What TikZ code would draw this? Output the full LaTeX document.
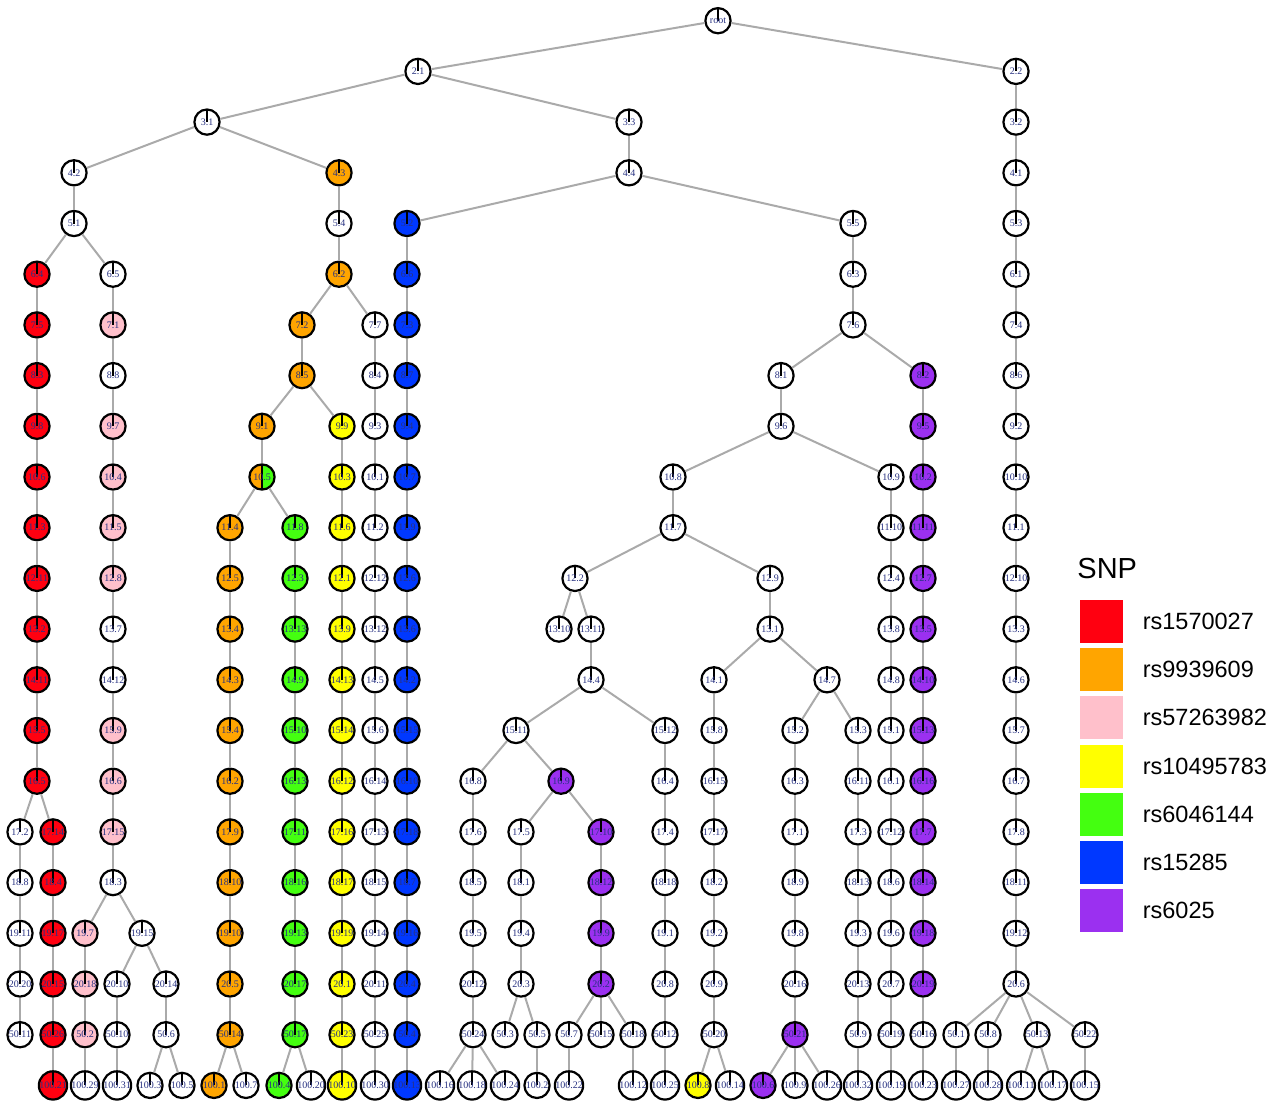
\documentclass[tikz,border=0pt]{standalone}
\usepackage{fontspec}
\setmainfont{Liberation Serif}
\newfontfamily\legendfont{Liberation Sans}
\usepackage{tikz}
\usetikzlibrary{positioning}

\definecolor{snpred}{HTML}{FF0010}
\definecolor{snporange}{HTML}{FFA500}
\definecolor{snppink}{HTML}{FFC0CB}
\definecolor{snpyellow}{HTML}{FFFF00}
\definecolor{snpgreen}{HTML}{44FF10}
\definecolor{snpblue}{HTML}{0038FF}
\definecolor{snppurple}{HTML}{9B30F0}
\definecolor{labelblue}{RGB}{40,50,130}
\definecolor{linkgray}{HTML}{AAAAAA}

\begin{document}
\begin{tikzpicture}[x=0.5pt,y=-0.5pt,
	snp/.style={circle,draw=black,line width=1.1pt,minimum size=12.6pt,inner sep=0pt,
		fill=white,text=labelblue,font=\fontsize{5}{5}\selectfont,
		path picture={\draw[black,line width=1pt] (path picture bounding box.north) -- (path picture bounding box.center);}},
	halfsnp/.style={path picture={
		\fill[snporange] (path picture bounding box.south west) rectangle (path picture bounding box.north);
		\fill[snpgreen] (path picture bounding box.south) rectangle (path picture bounding box.north east);
		\draw[black,line width=1pt] (path picture bounding box.north) -- (path picture bounding box.south);}},
	link/.style={draw=linkgray,line width=1pt},
	legbox/.style={rectangle,minimum size=22pt,inner sep=0pt,draw=white,line width=0.4pt},
	legtext/.style={inner sep=0pt,anchor=west,font=\legendfont\fontsize{11.75}{12}\selectfont}]
	\useasboundingbox (0,0) rectangle (1280,1110);

	% tree nodes, one row per level
	\node[snp] (nroot) at (718,20.7) {root};
	\foreach \i/\x/\c in {1/418/white,2/1016/white}
		\node[snp,fill=\c] (n2-\i) at (\x,71.4) {2.\i};
	\foreach \i/\x/\c in {1/207/white,3/629/white,2/1016/white}
		\node[snp,fill=\c] (n3-\i) at (\x,122.1) {3.\i};
	\foreach \i/\x/\c in {2/74/white,3/339/snporange,4/629/white,1/1016/white}
		\node[snp,fill=\c] (n4-\i) at (\x,172.8) {4.\i};
	\foreach \i/\x/\c in {1/74/white,4/339/white,2/407/snpblue,5/853/white,3/1016/white}
		\node[snp,fill=\c] (n5-\i) at (\x,223.5) {5.\i};
	\foreach \i/\x/\c in {4/37/snpred,5/113/white,2/339/snporange,6/407/snpblue,3/853/white,1/1016/white}
		\node[snp,fill=\c] (n6-\i) at (\x,274.2) {6.\i};
	\foreach \i/\x/\c in {5/37/snpred,1/113/snppink,2/302/snporange,7/375/white,3/407/snpblue,6/853/white,4/1016/white}
		\node[snp,fill=\c] (n7-\i) at (\x,324.9) {7.\i};
	\foreach \i/\x/\c in {3/37/snpred,8/113/white,5/302/snporange,4/375/white,7/407/snpblue,1/781/white,2/923/snppurple,6/1016/white}
		\node[snp,fill=\c] (n8-\i) at (\x,375.6) {8.\i};
	\foreach \i/\x/\c in {8/37/snpred,7/113/snppink,1/262/snporange,9/342/snpyellow,3/375/white,4/407/snpblue,6/781/white,5/923/snppurple,2/1016/white}
		\node[snp,fill=\c] (n9-\i) at (\x,426.3) {9.\i};
	\foreach \i/\x/\c in {6/37/snpred,4/113/snppink,3/342/snpyellow,1/375/white,7/407/snpblue,8/673/white,9/891/white,2/923/snppurple,10/1016/white}
		\node[snp,fill=\c] (n10-\i) at (\x,477) {10.\i};
	\node[snp,halfsnp] (n10-5) at (262,477) {10.5};
	\foreach \i/\x/\c in {3/37/snpred,5/113/snppink,4/230/snporange,8/295/snpgreen,6/342/snpyellow,2/375/white,9/407/snpblue,7/673/white,10/891/white,11/923/snppurple,1/1016/white}
		\node[snp,fill=\c] (n11-\i) at (\x,527.7) {11.\i};
	\foreach \i/\x/\c in {11/37/snpred,8/113/snppink,5/230/snporange,3/295/snpgreen,1/342/snpyellow,12/375/white,6/407/snpblue,2/575/white,9/770/white,4/891/white,7/923/snppurple,10/1016/white}
		\node[snp,fill=\c] (n12-\i) at (\x,578.4) {12.\i};
	\foreach \i/\x/\c in {2/37/snpred,7/113/white,4/230/snporange,13/295/snpgreen,9/342/snpyellow,12/375/white,6/407/snpblue,10/559/white,11/591/white,1/770/white,8/891/white,5/923/snppurple,3/1016/white}
		\node[snp,fill=\c] (n13-\i) at (\x,629.1) {13.\i};
	\foreach \i/\x/\c in {11/37/snpred,12/113/white,3/230/snporange,9/295/snpgreen,13/342/snpyellow,5/375/white,2/407/snpblue,4/591/white,1/714/white,7/827/white,8/891/white,10/923/snppurple,6/1016/white}
		\node[snp,fill=\c] (n14-\i) at (\x,679.8) {14.\i};
	\foreach \i/\x/\c in {5/37/snpred,9/113/snppink,4/230/snporange,10/295/snpgreen,14/342/snpyellow,6/375/white,15/407/snpblue,11/516/white,12/665/white,8/714/white,2/795/white,3/858/white,1/891/white,13/923/snppurple,7/1016/white}
		\node[snp,fill=\c] (n15-\i) at (\x,730.5) {15.\i};
	\foreach \i/\x/\c in {5/37/snpred,6/113/snppink,2/230/snporange,13/295/snpgreen,12/342/snpyellow,14/375/white,10/407/snpblue,8/473/white,9/561/snppurple,4/665/white,15/714/white,3/795/white,11/858/white,1/891/white,16/923/snppurple,7/1016/white}
		\node[snp,fill=\c] (n16-\i) at (\x,781.2) {16.\i};
	\foreach \i/\x/\c in {2/20/white,14/53/snpred,15/113/snppink,9/230/snporange,11/295/snpgreen,16/342/snpyellow,13/375/white,18/407/snpblue,6/473/white,5/521/white,10/601/snppurple,4/665/white,17/714/white,1/795/white,3/858/white,12/891/white,7/923/snppurple,8/1016/white}
		\node[snp,fill=\c] (n17-\i) at (\x,831.9) {17.\i};
	\foreach \i/\x/\c in {8/20/white,4/53/snpred,3/113/white,10/230/snporange,16/295/snpgreen,17/342/snpyellow,15/375/white,7/407/snpblue,5/473/white,1/521/white,12/601/snppurple,18/665/white,2/714/white,9/795/white,13/858/white,6/891/white,14/923/snppurple,11/1016/white}
		\node[snp,fill=\c] (n18-\i) at (\x,882.6) {18.\i};
	\foreach \i/\x/\c in {11/20/white,17/53/snpred,7/85/snppink,15/142/white,10/230/snporange,13/295/snpgreen,19/342/snpyellow,14/375/white,16/407/snpblue,5/473/white,4/521/white,9/601/snppurple,1/665/white,2/714/white,8/795/white,3/858/white,6/891/white,18/923/snppurple,12/1016/white}
		\node[snp,fill=\c] (n19-\i) at (\x,933.3) {19.\i};
	\foreach \i/\x/\c in {20/20/white,15/53/snpred,18/85/snppink,10/117/white,14/166/white,5/230/snporange,17/295/snpgreen,1/342/snpyellow,11/375/white,4/407/snpblue,12/473/white,3/521/white,2/601/snppurple,8/665/white,9/714/white,16/795/white,13/858/white,7/891/white,19/923/snppurple,6/1016/white}
		\node[snp,fill=\c] (n20-\i) at (\x,984) {20.\i};
	\foreach \i/\x/\c in {11/20/white,26/53/snpred,2/85/snppink,10/117/white,6/166/white,14/230/snporange,17/295/snpgreen,23/342/snpyellow,25/375/white,4/407/snpblue,24/473/white,3/505/white,5/537/white,7/569/white,15/601/white,18/633/white,12/665/white,20/714/white,21/795/snppurple,9/858/white,19/891/white,16/923/white,1/956/white,8/988/white,13/1037/white,22/1085/white}
		\node[snp,fill=\c] (n50-\i) at (\x,1034.7) {50.\i};
	\foreach \i/\x/\c in {21/53/snpred,29/85/white,31/117/white,3/150/white,5/182/white,1/214/snporange,7/246/white,4/279/snpgreen,20/311/white,10/342/snpyellow,30/375/white,13/407/snpblue,16/440/white,18/472/white,24/505/white,2/537/white,22/569/white,12/633/white,25/665/white,8/698/snpyellow,14/730/white,6/763/snppurple,9/795/white,26/827/white,32/858/white,19/891/white,23/923/white,27/956/white,28/988/white,11/1021/white,17/1053/white,15/1085/white}
		\node[snp,fill=\c] (n100-\i) at (\x,1085.4) {100.\i};

	% parent -- child links
	\foreach \a/\b in {root/2-1,root/2-2,2-1/3-1,2-1/3-3,2-2/3-2,
		3-1/4-2,3-1/4-3,3-3/4-4,3-2/4-1,
		4-2/5-1,4-3/5-4,4-4/5-2,4-4/5-5,4-1/5-3,
		5-1/6-4,5-1/6-5,5-4/6-2,5-2/6-6,5-5/6-3,5-3/6-1,
		6-4/7-5,6-5/7-1,6-2/7-2,6-2/7-7,6-6/7-3,6-3/7-6,6-1/7-4,
		7-5/8-3,7-1/8-8,7-2/8-5,7-7/8-4,7-3/8-7,7-6/8-1,7-6/8-2,7-4/8-6,
		8-3/9-8,8-8/9-7,8-5/9-1,8-5/9-9,8-4/9-3,8-7/9-4,8-1/9-6,8-2/9-5,8-6/9-2,
		9-8/10-6,9-7/10-4,9-1/10-5,9-9/10-3,9-3/10-1,9-4/10-7,9-6/10-8,9-6/10-9,9-5/10-2,9-2/10-10,
		10-6/11-3,10-4/11-5,10-5/11-4,10-5/11-8,10-3/11-6,10-1/11-2,10-7/11-9,10-8/11-7,10-9/11-10,10-2/11-11,10-10/11-1,
		11-3/12-11,11-5/12-8,11-4/12-5,11-8/12-3,11-6/12-1,11-2/12-12,11-9/12-6,11-7/12-2,11-7/12-9,11-10/12-4,11-11/12-7,11-1/12-10,
		12-11/13-2,12-8/13-7,12-5/13-4,12-3/13-13,12-1/13-9,12-12/13-12,12-6/13-6,12-2/13-10,12-2/13-11,12-9/13-1,12-4/13-8,12-7/13-5,12-10/13-3,
		13-2/14-11,13-7/14-12,13-4/14-3,13-13/14-9,13-9/14-13,13-12/14-5,13-6/14-2,13-11/14-4,13-1/14-1,13-1/14-7,13-8/14-8,13-5/14-10,13-3/14-6,
		14-11/15-5,14-12/15-9,14-3/15-4,14-9/15-10,14-13/15-14,14-5/15-6,14-2/15-15,14-4/15-11,14-4/15-12,14-1/15-8,14-7/15-2,14-7/15-3,14-8/15-1,14-10/15-13,14-6/15-7,
		15-5/16-5,15-9/16-6,15-4/16-2,15-10/16-13,15-14/16-12,15-6/16-14,15-15/16-10,15-11/16-8,15-11/16-9,15-12/16-4,15-8/16-15,15-2/16-3,15-3/16-11,15-1/16-1,15-13/16-16,15-7/16-7,
		16-5/17-2,16-5/17-14,16-6/17-15,16-2/17-9,16-13/17-11,16-12/17-16,16-14/17-13,16-10/17-18,16-8/17-6,16-9/17-5,16-9/17-10,16-4/17-4,16-15/17-17,16-3/17-1,16-11/17-3,16-1/17-12,16-16/17-7,16-7/17-8,
		17-2/18-8,17-14/18-4,17-15/18-3,17-9/18-10,17-11/18-16,17-16/18-17,17-13/18-15,17-18/18-7,17-6/18-5,17-5/18-1,17-10/18-12,17-4/18-18,17-17/18-2,17-1/18-9,17-3/18-13,17-12/18-6,17-7/18-14,17-8/18-11,
		18-8/19-11,18-4/19-17,18-3/19-7,18-3/19-15,18-10/19-10,18-16/19-13,18-17/19-19,18-15/19-14,18-7/19-16,18-5/19-5,18-1/19-4,18-12/19-9,18-18/19-1,18-2/19-2,18-9/19-8,18-13/19-3,18-6/19-6,18-14/19-18,18-11/19-12,
		19-11/20-20,19-17/20-15,19-7/20-18,19-15/20-10,19-15/20-14,19-10/20-5,19-13/20-17,19-19/20-1,19-14/20-11,19-16/20-4,19-5/20-12,19-4/20-3,19-9/20-2,19-1/20-8,19-2/20-9,19-8/20-16,19-3/20-13,19-6/20-7,19-18/20-19,19-12/20-6,
		20-20/50-11,20-15/50-26,20-18/50-2,20-10/50-10,20-14/50-6,20-5/50-14,20-17/50-17,20-1/50-23,20-11/50-25,20-4/50-4,20-12/50-24,20-3/50-3,20-3/50-5,20-2/50-7,20-2/50-15,20-2/50-18,20-8/50-12,20-9/50-20,20-16/50-21,20-13/50-9,20-7/50-19,20-19/50-16,20-6/50-1,20-6/50-8,20-6/50-13,20-6/50-22,
		50-26/100-21,50-2/100-29,50-10/100-31,50-6/100-3,50-6/100-5,50-14/100-1,50-14/100-7,50-17/100-4,50-17/100-20,50-23/100-10,50-25/100-30,50-4/100-13,50-24/100-16,50-24/100-18,50-24/100-24,50-5/100-2,50-7/100-22,50-18/100-12,50-12/100-25,50-20/100-8,50-20/100-14,50-21/100-6,50-21/100-9,50-21/100-26,50-9/100-32,50-19/100-19,50-16/100-23,50-1/100-27,50-8/100-28,50-13/100-11,50-13/100-17,50-22/100-15}
		\draw[link] (n\a) -- (n\b);

	% legend
	\node[inner sep=0pt,anchor=base west,font=\legendfont\fontsize{14.5}{15}\selectfont] (snptitle) at (1077,578) {SNP};
	\foreach \k/\c/\t in {0/snpred/rs1570027,1/snporange/rs9939609,2/snppink/rs57263982,3/snpyellow/rs10495783,4/snpgreen/rs6046144,5/snpblue/rs15285,6/snppurple/rs6025} {
		\node[legbox,fill=\c] (key\k) at (1101,{621+\k*48.3}) {};
		\node[legtext,right=9.5pt of key\k] (lab\k) {\t};
	}
\end{tikzpicture}
\end{document}
